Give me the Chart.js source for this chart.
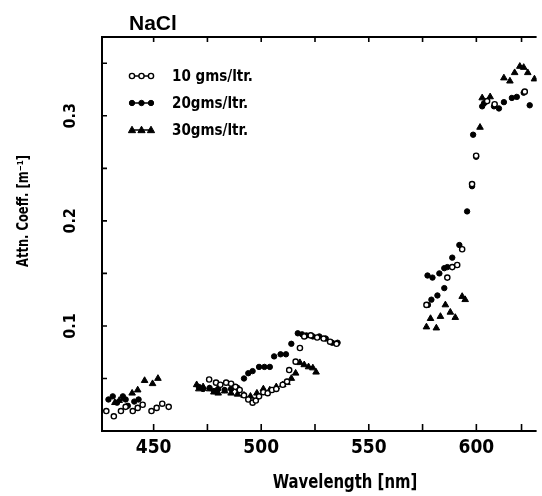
<!DOCTYPE html>
<html><head><meta charset="utf-8">
<script src="https://cdn.jsdelivr.net/npm/chart.js@4/dist/chart.umd.min.js"></script>
<style>html,body{margin:0;padding:0;background:#fff}canvas{display:block}</style>
</head><body>
<canvas id="c" width="542" height="496"></canvas>
<script>
const FONT = "'DejaVu Sans Condensed','DejaVu Sans',sans-serif";

const chartTitle = 'NaCl';
const xTitle = 'Wavelength [nm]';
const yTitle = 'Attn. Coeff. [m⁻¹]';
const seriesNames = ['10 gms/ltr.', '20gms/ltr.', '30gms/ltr.'];
const xTickLabels = [450, 500, 550, 600];
const yTickLabels = [0.1, 0.2, 0.3];
const xMinorTicks = [450, 475, 500, 525, 550, 575, 600, 621];
const yMinorTicks = [0.05, 0.1, 0.15, 0.2, 0.25, 0.3, 0.35];

// 10 gms/ltr (open circles)
const wl10 = [428, 431.5, 434.8, 437, 440.3, 442.6, 444.9, 449, 451.4, 454, 457,
  475.8, 479, 481, 483.7, 486, 488, 490, 492, 494, 496, 497.5, 499, 501, 503, 505, 507, 510, 512, 513, 516, 518, 520, 523, 526, 529, 532, 535,
  576.8, 586.5, 588.8, 591.1, 593.4, 598, 599.9, 605, 608.5, 622.5];
const att10 = [0.019, 0.014, 0.019, 0.023, 0.019, 0.022, 0.025, 0.019, 0.022, 0.026, 0.023,
  0.049, 0.046, 0.044, 0.046, 0.045, 0.042, 0.039, 0.034, 0.030, 0.027, 0.029, 0.033, 0.037, 0.036, 0.039, 0.040, 0.044, 0.047, 0.058, 0.066, 0.079, 0.090, 0.091, 0.089, 0.088, 0.085, 0.083,
  0.120, 0.146, 0.156, 0.158, 0.173, 0.235, 0.262, 0.314, 0.311, 0.323];

// 20 gms/ltr (filled circles)
const wl20 = [429, 431, 433, 435.7, 437, 438, 441, 443,
  471, 473, 476, 478, 480, 483, 486, 489, 492, 494, 496, 499, 501.5, 504, 506, 509, 511.5, 514, 517, 519, 521, 524, 527, 530, 533, 535.5,
  577.5, 579.1, 581.9, 585.1, 577.3, 579.6, 582.8, 585.1, 586.5, 588.8, 592.1, 595.7, 598, 599.9, 598.5,
  602.7, 603.6, 608.2, 610.5, 612.8, 616.5, 618.8, 622, 624.8];
const att20 = [0.030, 0.033, 0.027, 0.033, 0.030, 0.024, 0.028, 0.030,
  0.042, 0.040, 0.041, 0.038, 0.040, 0.039, 0.040, 0.041, 0.050, 0.055, 0.057, 0.061, 0.061, 0.061, 0.071, 0.073, 0.073, 0.083, 0.093, 0.092, 0.091, 0.090, 0.090, 0.088, 0.084, 0.084,
  0.120, 0.125, 0.129, 0.136, 0.148, 0.146, 0.150, 0.155, 0.156, 0.165, 0.177, 0.209, 0.233, 0.261, 0.282,
  0.309, 0.312, 0.309, 0.307, 0.313, 0.317, 0.318, 0.322, 0.310];

// 30 gms/ltr (triangles)
const wl30 = [432, 434, 436, 440, 442.6, 445.8, 449.5, 452,
  470, 471, 473, 476, 478, 480, 483, 486, 489, 492, 495, 498, 501, 504, 507, 510, 512, 514, 516, 518, 520, 522, 524, 525.5,
  576.8, 578.7, 581.4, 583.3, 585.6, 587.9, 590.2, 593.4, 594.8, 601.7,
  602.7, 606.4, 612.8, 615.6, 617.8, 620.2, 622, 623.9, 627];
const att30 = [0.027, 0.029, 0.031, 0.036, 0.039, 0.048, 0.045, 0.050,
  0.044, 0.040, 0.042, 0.040, 0.037, 0.036, 0.038, 0.036, 0.035, 0.034, 0.033, 0.036, 0.040, 0.039, 0.042, 0.044, 0.046, 0.050, 0.055, 0.065, 0.063, 0.061, 0.060, 0.056,
  0.099, 0.107, 0.098, 0.109, 0.120, 0.113, 0.108, 0.128, 0.125, 0.289,
  0.317, 0.318, 0.336, 0.333, 0.341, 0.347, 0.346, 0.341, 0.335];

const pts = (xs, ys) => xs.map((x, i) => ({x: x, y: ys[i]}));

function drawMarker(ctx, ds, x, y) {
  ctx.save();
  ctx.fillStyle = ds.pointBackgroundColor;
  ctx.strokeStyle = ds.pointBorderColor;
  ctx.lineWidth = ds.pointBorderWidth;
  const r = ds.pointRadius;
  ctx.beginPath();
  if (ds.pointStyle === 'triangle') {
    ctx.moveTo(x, y - r);
    ctx.lineTo(x + r * 0.95, y + r * 0.7);
    ctx.lineTo(x - r * 0.95, y + r * 0.7);
    ctx.closePath();
  } else {
    ctx.arc(x, y, r, 0, Math.PI * 2);
  }
  ctx.fill();
  ctx.stroke();
  ctx.restore();
}

const decor = {
  id: 'decor',
  afterDraw(chart) {
    const ctx = chart.ctx;
    const {left, right, top, bottom} = chart.chartArea;
    const xs = chart.scales.x, ys = chart.scales.y;
    ctx.save();
    ctx.strokeStyle = '#000';
    ctx.lineWidth = 2;
    ctx.beginPath();
    ctx.moveTo(right, top); ctx.lineTo(left, top); ctx.lineTo(left, bottom); ctx.lineTo(right, bottom);
    ctx.stroke();
    ctx.lineWidth = 1.6;
    ctx.beginPath();
    xMinorTicks.forEach(v => {
      const p = xs.getPixelForValue(v);
      ctx.moveTo(p, bottom); ctx.lineTo(p, bottom - 7);
      ctx.moveTo(p, top); ctx.lineTo(p, top + 5);
    });
    yMinorTicks.forEach(v => {
      const p = ys.getPixelForValue(v);
      ctx.moveTo(left, p); ctx.lineTo(left + 5, p);
    });
    ctx.stroke();

    ctx.fillStyle = '#000';
    // chart title
    ctx.font = "bold 21px 'Liberation Sans', sans-serif";
    ctx.textAlign = 'left';
    ctx.textBaseline = 'alphabetic';
    ctx.fillText(chartTitle, 129, 30);

    // x axis title
    ctx.save();
    ctx.translate(345, 483);
    ctx.scale(0.87, 1);
    ctx.font = "bold 19px " + FONT;
    ctx.textAlign = 'center';
    ctx.textBaseline = 'middle';
    ctx.fillText(xTitle, 0, 0);
    ctx.restore();

    // y axis title
    ctx.save();
    ctx.translate(24, 211);
    ctx.rotate(-Math.PI / 2);
    ctx.scale(0.8, 1);
    ctx.font = "bold 16px " + FONT;
    ctx.textAlign = 'center';
    ctx.textBaseline = 'middle';
    ctx.fillText(yTitle, 0, 0);
    ctx.restore();

    // legend
    const rows = [76, 103, 130];
    ctx.font = "bold 15px " + FONT;
    ctx.textAlign = 'left';
    ctx.textBaseline = 'middle';
    chart.data.datasets.forEach((ds, i) => {
      const y = rows[i];
      ctx.lineWidth = 1.5;
      ctx.beginPath();
      ctx.moveTo(131, y); ctx.lineTo(152, y);
      ctx.stroke();
      [132, 141.5, 151].forEach(x => drawMarker(ctx, ds, x, y));
      ctx.fillText(seriesNames[i], 172, y + 1);
    });
    ctx.restore();
  }
};

new Chart(document.getElementById('c'), {
  type: 'scatter',
  data: {
    datasets: [
      {label: seriesNames[0], data: pts(wl10, att10), pointStyle: 'circle', pointRadius: 2.6, pointBackgroundColor: '#fff', pointBorderColor: '#000', pointBorderWidth: 1.4},
      {label: seriesNames[1], data: pts(wl20, att20), pointStyle: 'circle', pointRadius: 2.7, pointBackgroundColor: '#000', pointBorderColor: '#000', pointBorderWidth: 1},
      {label: seriesNames[2], data: pts(wl30, att30), pointStyle: 'triangle', pointRadius: 3.8, pointBackgroundColor: '#000', pointBorderColor: '#000', pointBorderWidth: 1}
    ]
  },
  options: {
    responsive: false,
    devicePixelRatio: 1,
    animation: false,
    layout: {padding: {top: 37, right: 2, left: 0, bottom: 0}},
    plugins: {legend: {display: false}, tooltip: {enabled: false}, title: {display: false}},
    scales: {
      x: {
        type: 'linear', min: 426, max: 628,
        border: {display: false},
        grid: {display: false, drawTicks: false},
        afterFit(s) { s.height = 65; },
        afterBuildTicks(s) { s.ticks = xTickLabels.map(v => ({value: v})); },
        ticks: {
          autoSkip: false, maxRotation: 0, padding: 6, color: '#000',
          font: {family: FONT, size: 19, weight: 'bold'},
          callback: v => String(v)
        }
      },
      y: {
        type: 'linear', min: 0, max: 0.375,
        border: {display: false},
        grid: {display: false, drawTicks: false},
        afterFit(s) { s.width = 102; },
        afterBuildTicks(s) { s.ticks = yTickLabels.map(v => ({value: v})); },
        ticks: {
          autoSkip: false, minRotation: 90, maxRotation: 90, crossAlign: 'center', padding: 18, color: '#000',
          font: {family: FONT, size: 16, weight: 'bold'},
          callback: v => v.toFixed(1)
        }
      }
    }
  },
  plugins: [decor]
});
</script>
</body></html>
